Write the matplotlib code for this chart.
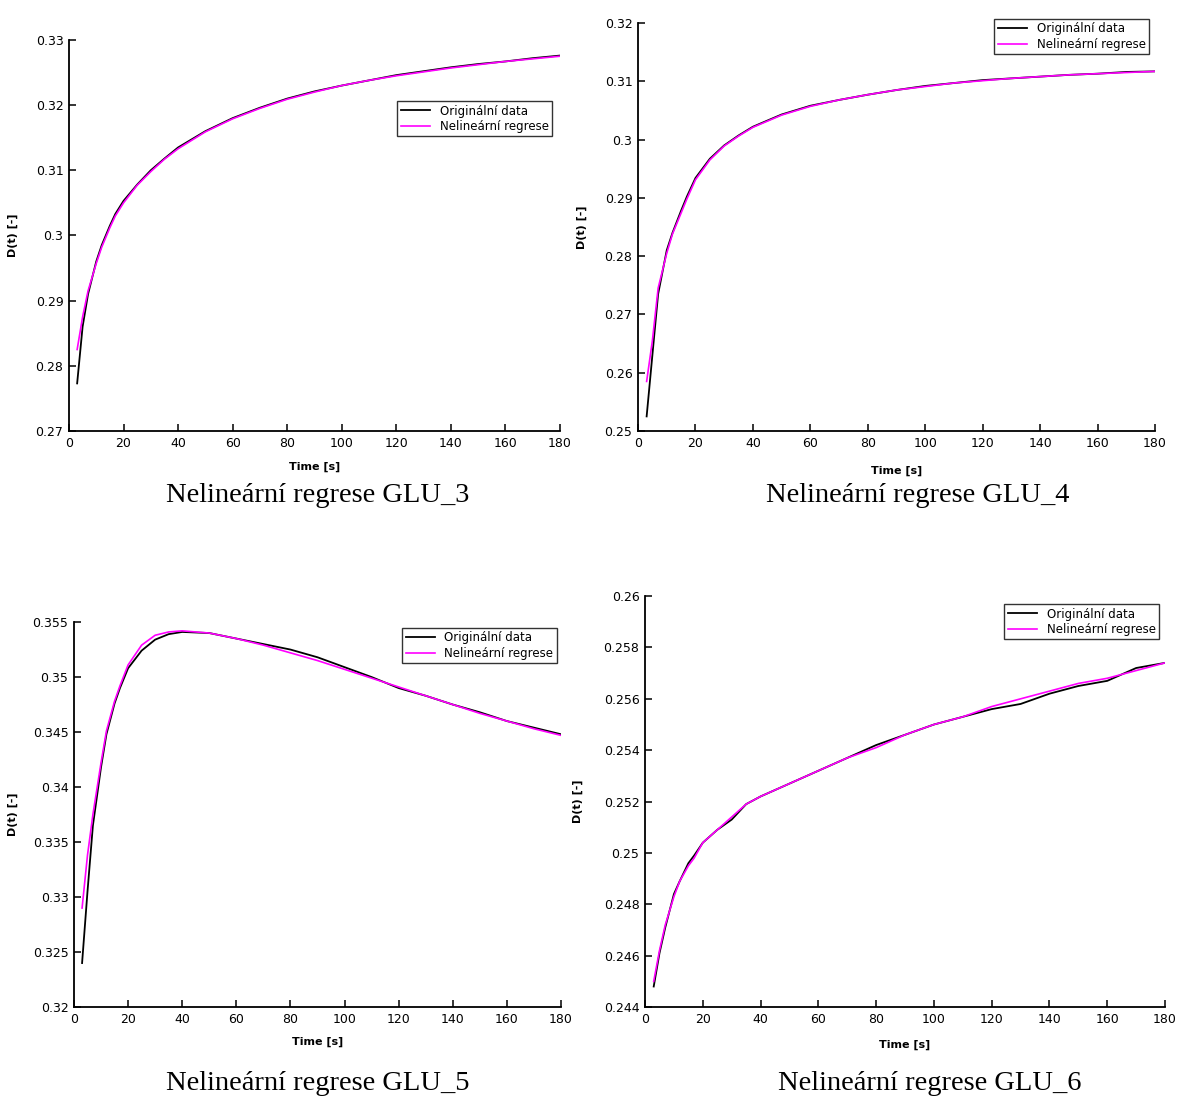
import matplotlib
matplotlib.use("Agg")
import matplotlib.pyplot as plt
from matplotlib.ticker import FuncFormatter

# ---- data ----
t = [3, 5, 7, 10, 12, 15, 17, 20, 25, 30, 35, 40, 50, 60, 70, 80, 90, 100, 110, 120, 130, 140, 150, 160, 170, 180]

glu3_data = [0.2773, 0.2860, 0.2910, 0.2960, 0.2985, 0.3015, 0.3033, 0.3053, 0.3078, 0.3100, 0.3118, 0.3135,
             0.3160, 0.3180, 0.3196, 0.3210, 0.3221, 0.3230, 0.3238, 0.3246, 0.3252, 0.3258, 0.3263, 0.3267,
             0.3272, 0.3276]
glu3_fit = [0.2825, 0.2875, 0.2915, 0.2957, 0.2982, 0.3012, 0.3030, 0.3050, 0.3077, 0.3098, 0.3117, 0.3133,
            0.3159, 0.3179, 0.3195, 0.3209, 0.3220, 0.3230, 0.3238, 0.3245, 0.3251, 0.3257, 0.3262, 0.3267,
            0.3271, 0.3275]

glu4_data = [0.2525, 0.2630, 0.2735, 0.2810, 0.2840, 0.2878, 0.2902, 0.2934, 0.2967, 0.2990, 0.3007, 0.3022,
             0.3043, 0.3058, 0.3068, 0.3077, 0.3085, 0.3092, 0.3097, 0.3102, 0.3105, 0.3108, 0.3111, 0.3113,
             0.3116, 0.3117]
glu4_fit = [0.2585, 0.2655, 0.2745, 0.2805, 0.2838, 0.2874, 0.2898, 0.2931, 0.2965, 0.2989, 0.3006, 0.3021,
            0.3042, 0.3057, 0.3068, 0.3077, 0.3085, 0.3091, 0.3097, 0.3101, 0.3105, 0.3108, 0.3111, 0.3113,
            0.3115, 0.3117]

glu5_data = [0.3240, 0.3305, 0.3365, 0.3418, 0.3448, 0.3476, 0.3490, 0.3508, 0.3524, 0.3534, 0.3539, 0.3541,
             0.3540, 0.3535, 0.3530, 0.3525, 0.3518, 0.3509, 0.3500, 0.3490, 0.3483, 0.3475, 0.3468, 0.3460,
             0.3454, 0.3448]
glu5_fit = [0.3290, 0.3338, 0.3375, 0.3422, 0.3451, 0.3478, 0.3492, 0.3511, 0.3529, 0.3538, 0.3541, 0.3542,
            0.3540, 0.3535, 0.3529, 0.3522, 0.3515, 0.3507, 0.3499, 0.3491, 0.3483, 0.3475, 0.3467, 0.3460,
            0.3453, 0.3447]

glu6_data = [0.2448, 0.2461, 0.2471, 0.2484, 0.2489, 0.2496, 0.2499, 0.2504, 0.2509, 0.2513, 0.2519, 0.2522,
             0.2527, 0.2532, 0.2537, 0.2542, 0.2546, 0.2550, 0.2553, 0.2556, 0.2558, 0.2562, 0.2565, 0.2567,
             0.2572, 0.2574]
glu6_fit = [0.2450, 0.2462, 0.2472, 0.2483, 0.2489, 0.2495, 0.2498, 0.2504, 0.2509, 0.2514, 0.2519, 0.2522,
            0.2527, 0.2532, 0.2537, 0.2541, 0.2546, 0.2550, 0.2553, 0.2557, 0.2560, 0.2563, 0.2566, 0.2568,
            0.2571, 0.2574]

xticks = [0, 20, 40, 60, 80, 100, 120, 140, 160, 180]
legend_labels = ["Originální data", "Nelineární regrese"]
captions = ["Nelineární regrese GLU_3", "Nelineární regrese GLU_4",
            "Nelineární regrese GLU_5", "Nelineární regrese GLU_6"]
ylabels = ["D(t) [-]", "D(t) [-]", "D(t) [-]", "D(t) [-]"]
xlabel = "Time [s]"

panels = [
    dict(data=glu3_data, fit=glu3_fit, ylim=(0.27, 0.33), yticks=[0.27, 0.28, 0.29, 0.30, 0.31, 0.32, 0.33],
         pos=[0.0579, 0.6082, 0.4123, 0.3555], leg=(0.996, 0.859), ylab=-0.104, xlab=-0.079,
         cap=(318, 495)),
    dict(data=glu4_data, fit=glu4_fit, ylim=(0.25, 0.32), yticks=[0.25, 0.26, 0.27, 0.28, 0.29, 0.30, 0.31, 0.32],
         pos=[0.5357, 0.6082, 0.4341, 0.3709], leg=(1.0, 1.0245), ylab=-0.099, xlab=-0.086,
         cap=(918, 495)),
    dict(data=glu5_data, fit=glu5_fit, ylim=(0.32, 0.355),
         yticks=[0.32, 0.325, 0.33, 0.335, 0.34, 0.345, 0.35, 0.355],
         pos=[0.0621, 0.0845, 0.4089, 0.35], leg=(1.004, 1.0), ylab=-0.115, xlab=-0.078,
         cap=(318, 1083)),
    dict(data=glu6_data, fit=glu6_fit, ylim=(0.244, 0.26),
         yticks=[0.244, 0.246, 0.248, 0.25, 0.252, 0.254, 0.256, 0.258, 0.26],
         pos=[0.5416, 0.0845, 0.4366, 0.3736], leg=(1.0, 0.995), ylab=-0.119, xlab=-0.080,
         cap=(930, 1083)),
]

W, H = 1191, 1100
fig = plt.figure(figsize=(W / 100, H / 100), dpi=100)
fig.patch.set_facecolor("white")

fmt = FuncFormatter(lambda v, p: "%g" % round(v, 4))

for i, p in enumerate(panels):
    ax = fig.add_axes(p["pos"])
    ax.plot(t, p["data"], color="black", lw=1.3, label=legend_labels[0])
    ax.plot(t, p["fit"], color="#ff00ff", lw=1.2, label=legend_labels[1])
    ax.set_xlim(0, 180)
    ax.set_ylim(*p["ylim"])
    ax.set_xticks(xticks)
    ax.set_yticks(p["yticks"])
    ax.yaxis.set_major_formatter(fmt)
    ax.spines["top"].set_visible(False)
    ax.spines["right"].set_visible(False)
    for s in ("left", "bottom"):
        ax.spines[s].set_linewidth(1.3)
    ax.tick_params(direction="in", length=5, width=1.1, labelsize=9, pad=4)
    ax.set_xlabel(xlabel, fontsize=8, fontweight="bold")
    ax.set_ylabel(ylabels[i], fontsize=8, fontweight="bold")
    ax.xaxis.set_label_coords(0.5, p["xlab"])
    ax.yaxis.set_label_coords(p["ylab"], 0.5)
    leg = ax.legend(loc="upper right", bbox_to_anchor=p["leg"], fontsize=8.5, frameon=True,
                    fancybox=False, edgecolor="black", handlelength=2.5, borderpad=0.3,
                    labelspacing=0.2, handletextpad=0.8)
    leg.get_frame().set_linewidth(1.0)
    cx, cy = p["cap"]
    fig.text(cx / W, 1 - cy / H, captions[i], ha="center", va="center",
             fontsize=20.5, family="Liberation Serif")

fig.savefig("out.png", dpi=100, facecolor="white")
